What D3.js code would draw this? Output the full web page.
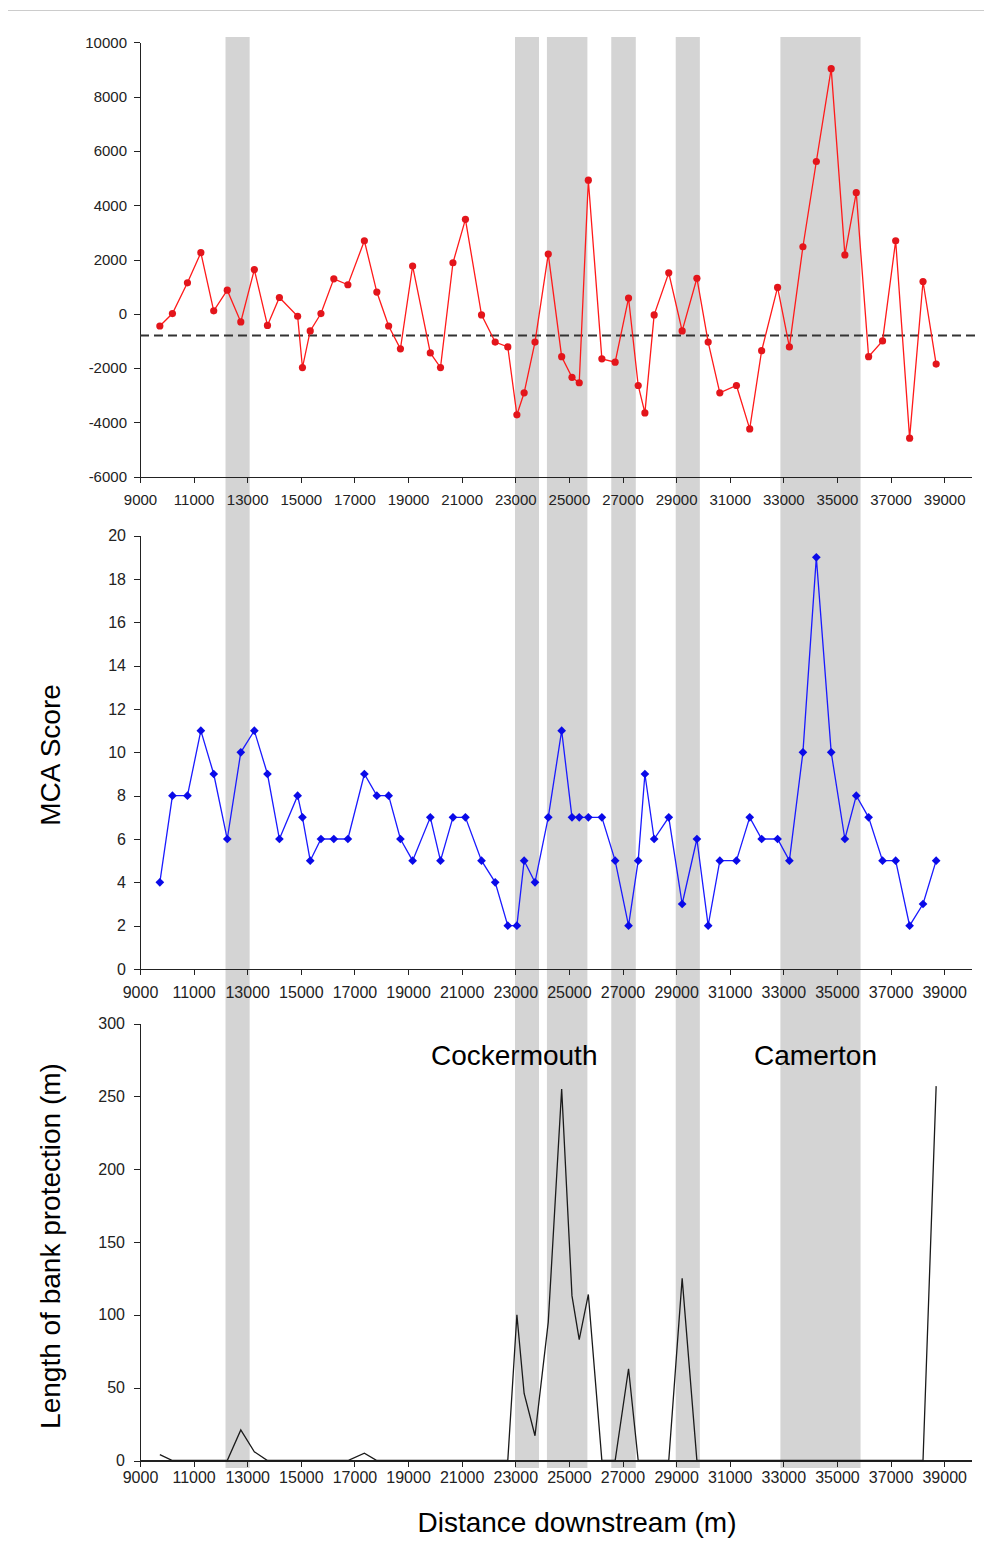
<!DOCTYPE html>
<html>
<head>
<meta charset="utf-8">
<script src="https://cdn.jsdelivr.net/npm/d3@7"></script>
<style>
  body { margin: 0; background: #fff; }
  svg { display: block; font-family: "Liberation Sans", Arial, sans-serif; }
  .axis path, .axis line { stroke: #222; shape-rendering: crispEdges; }
  .axis text { fill: #222; }
</style>
</head>
<body>
<div id="chart"></div>
<script>
/*******************************************************
 *                     DATA                            *
 ******************************************************/

// distance downstream of each surveyed reach (m)
var distance = [9740, 10210, 10770, 11270, 11750, 12255, 12760, 13265, 13755, 14200,
                14880, 15060, 15350, 15750, 16230, 16755, 17370, 17835, 18275, 18715,
                19170, 19830, 20210, 20675, 21140, 21740, 22250, 22720, 23060, 23330,
                23735, 24230, 24730, 25115, 25385, 25725, 26230, 26725, 27225, 27585,
                27835, 28180, 28725, 29225, 29775, 30195, 30630, 31250, 31745, 32190,
                32785, 33225, 33730, 34230, 34785, 35295, 35720, 36180, 36700, 37190,
                37710, 38210, 38700];

// top panel (red)
var residual = [-450, 10, 1140, 2250, 110, 870, -300, 1630, -430, 600,
                -90, -1980, -630, 10, 1290, 1070, 2690, 800, -450, -1290,
                1760, -1440, -1980, 1880, 3480, -40, -1040, -1220, -3720, -2910,
                -1040, 2200, -1580, -2340, -2540, 4920, -1660, -1780, 580, -2640,
                -3650, -40, 1510, -630, 1310, -1040, -2910, -2640, -4240, -1360,
                970, -1220, 2470, 5610, 9030, 2170, 4460, -1580, -1000, 2690,
                -4580, 1190, -1850];
var residualMean = -800;

// middle panel (blue)
var mcaScore = [4, 8, 8, 11, 9, 6, 10, 11, 9, 6,
                8, 7, 5, 6, 6, 6, 9, 8, 8, 6,
                5, 7, 5, 7, 7, 5, 4, 2, 2, 5,
                4, 7, 11, 7, 7, 7, 7, 5, 2, 5,
                9, 6, 7, 3, 6, 2, 5, 5, 7, 6,
                6, 5, 10, 19, 10, 6, 8, 7, 5, 5,
                2, 3, 5];

// bottom panel (black)
var bankProtection = [4, 0, 0, 0, 0, 0, 21, 6, 0, 0,
                      0, 0, 0, 0, 0, 0, 5, 0, 0, 0,
                      0, 0, 0, 0, 0, 0, 0, 0, 100, 46,
                      17, 95, 255, 113, 83, 114, 0, 0, 63, 0,
                      0, 0, 0, 125, 0, 0, 0, 0, 0, 0,
                      0, 0, 0, 0, 0, 0, 0, 0, 0, 0,
                      0, 0, 257];

// shaded reaches (start, end in m)
var bandStart = [12190, 22990, 24180, 26580, 28985, 32890];
var bandEnd   = [13090, 23885, 25690, 27495, 29885, 35880];

var towns  = ["Cockermouth", "Camerton"];
var townAt = [22960, 34200];

var xTicks = d3.range(9000, 40000, 2000);
var yTicks1 = d3.range(-6000, 10001, 2000);
var yTicks2 = d3.range(0, 21, 2);
var yTicks3 = d3.range(0, 301, 50);


/*******************************************************
 *                     LAYOUT                          *
 ******************************************************/
var width = 992, height = 1542;

var svg = d3.select("#chart").append("svg")
            .attr("width", width)
            .attr("height", height);

var x = d3.scaleLinear()
          .domain([9000, 40000])
          .range([140, 971]);

// plain hyphen minus like the original, not d3's unicode minus
var plain = function(d) { return String(d); };

var panels = [
  { top: 42.3,   bottom: 476.7,  domain: [-6000, 10000], ticks: yTicks1, fs: 15, xpad: 12,  ypad: 7 },
  { top: 535.7,  bottom: 969,    domain: [0, 20],        ticks: yTicks2, fs: 16, xpad: 12,  ypad: 8 },
  { top: 1023.5, bottom: 1460.5, domain: [0, 300],       ticks: yTicks3, fs: 16, xpad: 5.5, ypad: 9 }
];

panels.forEach(function(p) {
  p.y = d3.scaleLinear().domain(p.domain).range([p.bottom, p.top]);
});

// thin rule along the top
svg.append("line")
   .attr("x1", 8).attr("x2", 984)
   .attr("y1", 10.5).attr("y2", 10.5)
   .attr("stroke", "#cccccc");

// grey bands run through all three panels
svg.selectAll("rect.band")
   .data(bandStart)
   .enter().append("rect")
   .attr("class", "band")
   .attr("x", function(d) { return x(d); })
   .attr("width", function(d, i) { return x(bandEnd[i]) - x(d); })
   .attr("y", 37)
   .attr("height", 1468 - 37)
   .attr("fill", "#d4d4d4");


/*******************************************************
 *                     AXES                            *
 ******************************************************/
panels.forEach(function(p) {
  var gx = svg.append("g")
              .attr("class", "axis")
              .attr("transform", "translate(0," + p.bottom + ")")
              .call(d3.axisBottom(x)
                      .tickValues(xTicks)
                      .tickFormat(plain)
                      .tickSize(6)
                      .tickSizeOuter(0)
                      .tickPadding(p.xpad));
  gx.selectAll("text").style("font-size", p.fs + "px");
  gx.select(".domain").attr("stroke-width", 1.3);

  var gy = svg.append("g")
              .attr("class", "axis")
              .attr("transform", "translate(" + x(9000) + ",0)")
              .call(d3.axisLeft(p.y)
                      .tickValues(p.ticks)
                      .tickFormat(plain)
                      .tickSize(6)
                      .tickSizeOuter(0)
                      .tickPadding(p.ypad));
  gy.selectAll("text").style("font-size", p.fs + "px");
  gy.select(".domain").attr("stroke-width", 1.3);
});


/*******************************************************
 *                     SERIES                          *
 ******************************************************/
var p1 = panels[0], p2 = panels[1], p3 = panels[2];

// mean line of the top panel
svg.append("line")
   .attr("x1", x(9000))
   .attr("x2", x(40000) + 4)
   .attr("y1", p1.y(residualMean))
   .attr("y2", p1.y(residualMean))
   .attr("stroke", "#333")
   .attr("stroke-width", 2)
   .attr("stroke-dasharray", "9,5");

function seriesLine(scale, values) {
  return d3.line()
           .x(function(d, i) { return x(distance[i]); })
           .y(function(d) { return scale(d); })(values);
}

svg.append("path")
   .attr("d", seriesLine(p1.y, residual))
   .attr("fill", "none")
   .attr("stroke", "#ff1a1a")
   .attr("stroke-width", 1.3);

svg.selectAll("circle.red")
   .data(residual)
   .enter().append("circle")
   .attr("class", "red")
   .attr("cx", function(d, i) { return x(distance[i]); })
   .attr("cy", function(d) { return p1.y(d); })
   .attr("r", 3.6)
   .attr("fill", "#e3151b");

svg.append("path")
   .attr("d", seriesLine(p2.y, mcaScore))
   .attr("fill", "none")
   .attr("stroke", "#1a1aff")
   .attr("stroke-width", 1.3);

var diamond = d3.symbol().type(d3.symbolSquare).size(38);

svg.selectAll("path.blue")
   .data(mcaScore)
   .enter().append("path")
   .attr("class", "blue")
   .attr("d", diamond)
   .attr("transform", function(d, i) {
     return "translate(" + x(distance[i]) + "," + p2.y(d) + ") rotate(45)";
   })
   .attr("fill", "#0a0ae8");

svg.append("path")
   .attr("d", seriesLine(p3.y, bankProtection))
   .attr("fill", "none")
   .attr("stroke", "#1a1a1a")
   .attr("stroke-width", 1.3);


/*******************************************************
 *                     LABELS                          *
 ******************************************************/
svg.selectAll("text.town")
   .data(towns)
   .enter().append("text")
   .attr("class", "town")
   .attr("x", function(d, i) { return x(townAt[i]); })
   .attr("y", 1065)
   .attr("text-anchor", "middle")
   .style("font-size", "28px")
   .text(function(d) { return d; });

svg.append("text")
   .attr("transform", "translate(60,755) rotate(-90)")
   .attr("text-anchor", "middle")
   .style("font-size", "28px")
   .text("MCA Score");

svg.append("text")
   .attr("transform", "translate(60,1246) rotate(-90)")
   .attr("text-anchor", "middle")
   .style("font-size", "28px")
   .text("Length of bank protection (m)");

svg.append("text")
   .attr("x", 577)
   .attr("y", 1532)
   .attr("text-anchor", "middle")
   .style("font-size", "28px")
   .text("Distance downstream (m)");
</script>
</body>
</html>
